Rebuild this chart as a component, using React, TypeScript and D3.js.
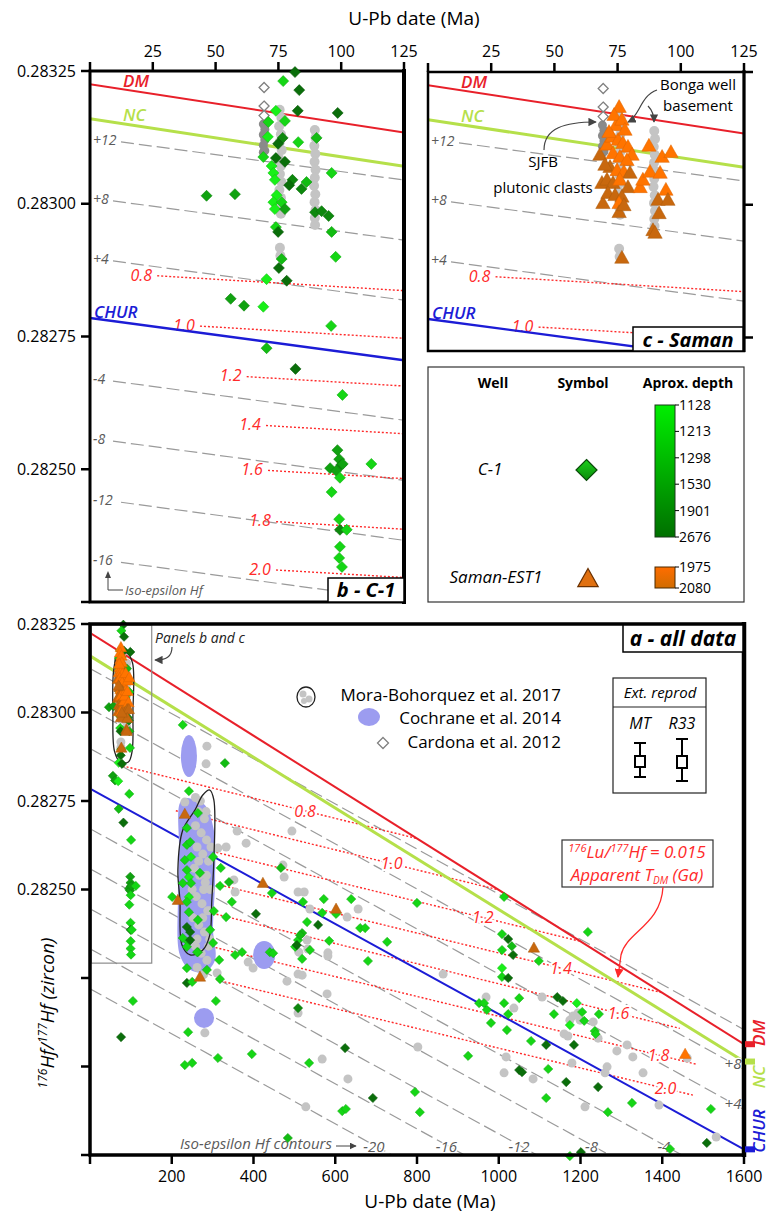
import React from "react";
import * as d3 from "d3";

const FONT = "'Open Sans', 'Noto Sans', 'DejaVu Sans', sans-serif";

// Reference evolution lines: [age (Ma), 176Hf/177Hf]
const DM_LINE = [[0, 0.283225], [1600, 0.282063]];
const NC_LINE = [[0, 0.28316], [1600, 0.282014]];
const CHUR_LINE = [[0, 0.282785], [1600, 0.281766]];

const EPS_A = [12, 8, 4, -4, -8, -12, -16, -20];
const EPS_BC = [12, 8, 4, -4, -8, -12, -16];
const EPS_LABELS_BOTTOM = [-20, -16, -12, -8, -4];
const EPS_LABELS_RIGHT = [4, 8];

const TDM_GA = [0.8, 1.0, 1.2, 1.4, 1.6, 1.8, 2.0];
const TDM_HF0 = [0.282872, 0.282782, 0.282692, 0.282602, 0.282518, 0.282422, 0.282331];
const TDM_A_START = [80, 210, 290, 300, 300, 269, 310];
const TDM_A_END = [800, 1000, 1200, 1400, 1443, 1485, 1475];
const TDM_A_LABEL_T = [526, 738, 961, 1152, 1293, 1391, 1408];
const TDM_BC_LABEL_T = [20.4, 37.4, 56, 63.7, 64.5, 67.7, 67.7];

const TOP_TICKS = [0, 25, 50, 75, 100, 125];
const Y_TICKS_B = [0.28325, 0.283, 0.28275, 0.2825, 0.28225];
const Y_TICKS_C_RIGHT = [0.28325, 0.283, 0.28275];
const X_TICKS_A = [0, 200, 400, 600, 800, 1000, 1200, 1400, 1600];
const Y_TICKS_A = [0.28325, 0.283, 0.28275, 0.2825, 0.28225, 0.282, 0.28175];
const DEPTHS_C1 = ["1128", "1213", "1298", "1530", "1901", "2676"];
const DEPTHS_SAMAN = ["1975", "2080"];

// C-1 well zircons: [age Ma, 176Hf/177Hf, depth level 0 (shallow, bright) .. 5 (deep, dark)]
const C1 = [
  [81.6, 0.283248, 5], [76.9, 0.283231, 1], [83.3, 0.283214, 5], [82.7, 0.283175, 5], [74.0, 0.283175, 0],
  [98.6, 0.283171, 5], [77.6, 0.283156, 1], [71.0, 0.283154, 1], [90.2, 0.283124, 2], [82.9, 0.283116, 1],
  [76.7, 0.283124, 4], [74.9, 0.283113, 5], [70.8, 0.283126, 0], [69.0, 0.283088, 1], [74.0, 0.283086, 5],
  [77.6, 0.283079, 5], [72.3, 0.283071, 0], [96.2, 0.283058, 1], [73.0, 0.283058, 0], [73.6, 0.283045, 0],
  [80.6, 0.283045, 4], [79.3, 0.283035, 5], [86.2, 0.283041, 2], [84.2, 0.283028, 4], [46.4, 0.283015, 3],
  [57.7, 0.283018, 3], [74.3, 0.283016, 0], [73.0, 0.283003, 0], [76.3, 0.283003, 1], [73.6, 0.28299, 0],
  [77.6, 0.28299, 3], [89.6, 0.282984, 4], [92.2, 0.282986, 4], [95.0, 0.282977, 4], [96.2, 0.282947, 2],
  [74.0, 0.282956, 1], [74.9, 0.282947, 5], [97.8, 0.2829, 1], [76.3, 0.282896, 2], [75.2, 0.282879, 5],
  [70.3, 0.282858, 0], [78.3, 0.282855, 5], [56.0, 0.282821, 3], [61.3, 0.282808, 3], [69.0, 0.282806, 0],
  [96.0, 0.28277, 1], [70.3, 0.282728, 2], [81.8, 0.282689, 5], [100.5, 0.28264, 1], [98.5, 0.282536, 3],
  [99.2, 0.282519, 3], [100.0, 0.282508, 4], [95.6, 0.282502, 3], [98.0, 0.282497, 3], [100.6, 0.28251, 3],
  [112.0, 0.28251, 1], [99.5, 0.282484, 1], [96.2, 0.282457, 1], [99.2, 0.282406, 1], [99.5, 0.282386, 4],
  [102.2, 0.282386, 1], [99.5, 0.282354, 1], [99.2, 0.282333, 1], [100.3, 0.282316, 1], [105, 0.282185, 1],
  [76, 0.282083, 5],
  [227, 0.282965, 1], [330, 0.282857, 2], [242, 0.282778, 1], [264, 0.282716, 1], [237, 0.282674, 1],
  [301, 0.282592, 1], [320, 0.282561, 1], [318, 0.28251, 1], [340, 0.282521, 2], [347, 0.282465, 1],
  [445, 0.28249, 1], [467, 0.282561, 2], [406, 0.282431, 5], [333, 0.282422, 1], [303, 0.282439, 1],
  [294, 0.282386, 1], [301, 0.282349, 1], [521, 0.282465, 1], [572, 0.282473, 1], [639, 0.282473, 1],
  [568, 0.282434, 1], [531, 0.282408, 1], [558, 0.2824, 5], [661, 0.282391, 1], [673, 0.282391, 1],
  [519, 0.282377, 2], [509, 0.282357, 1], [502, 0.282338, 1], [585, 0.282355, 1], [727, 0.282352, 1],
  [372, 0.282323, 1], [355, 0.282315, 1], [440, 0.282323, 1], [448, 0.28232, 1], [201, 0.282479, 1],
  [316, 0.282301, 1], [264, 0.282323, 1], [240, 0.282352, 1], [237, 0.282278, 1], [286, 0.282273, 1],
  [237, 0.282236, 5], [250, 0.282239, 1], [318, 0.282247, 1], [308, 0.282185, 1], [240, 0.282097, 1],
  [313, 0.282024, 1], [232, 0.282004, 1], [250, 0.28201, 1], [396, 0.282035, 1], [484, 0.281798, 2],
  [536, 0.28201, 1], [624, 0.282052, 5], [692, 0.281911, 5], [617, 0.281874, 1], [626, 0.28188, 1],
  [509, 0.282165, 4], [519, 0.282304, 1], [538, 0.282329, 1], [506, 0.282343, 5], [514, 0.282371, 2],
  [602, 0.282431, 1], [680, 0.282298, 1], [800, 0.282462, 1], [1013, 0.282479, 1], [1008, 0.282374, 1],
  [1023, 0.28236, 5], [1032, 0.28234, 2], [1008, 0.282329, 1], [1035, 0.282315, 5], [1098, 0.282298, 1],
  [1008, 0.282278, 0], [1008, 0.282253, 1], [1023, 0.28225, 5], [952, 0.282179, 1], [964, 0.282179, 1],
  [971, 0.28216, 1], [1013, 0.282179, 1], [1050, 0.282193, 1], [981, 0.282123, 1], [1023, 0.282148, 1],
  [1020, 0.282103, 1], [1079, 0.282072, 1], [1116, 0.282061, 5], [1143, 0.282196, 5], [1157, 0.282185, 5],
  [1135, 0.282148, 1], [1191, 0.282179, 0], [1174, 0.282117, 0], [1184, 0.282061, 5], [925, 0.28203, 1],
  [1050, 0.28199, 5], [1057, 0.281984, 5], [1121, 0.281993, 1], [1218, 0.28238, 1], [1204, 0.282154, 1],
  [1245, 0.282148, 1], [1209, 0.282129, 1], [1235, 0.2821, 1], [1237, 0.282092, 1], [1165, 0.281956, 5],
  [1243, 0.281942, 5], [1116, 0.281911, 1], [1326, 0.281897, 1], [1267, 0.281871, 1], [1519, 0.28188, 1],
  [1509, 0.281784, 5], [1419, 0.281767, 1], [1174, 0.281747, 1], [1201, 0.281758, 5], [795, 0.281928, 1],
  [807, 0.281871, 1],
  [237, 0.282626, 1], [245, 0.282634, 1], [232, 0.282583, 1], [247, 0.282592, 0], [237, 0.282555, 1],
  [269, 0.282547, 1], [242, 0.282535, 0], [227, 0.282518, 1], [247, 0.282518, 1], [242, 0.282479, 0],
  [237, 0.282465, 1], [264, 0.282414, 1], [242, 0.282436, 1], [237, 0.282394, 5], [245, 0.28238, 5],
  [227, 0.282363, 1], [237, 0.282338, 1], [262, 0.282323, 1], [245, 0.282357, 5],
];

// Saman-EST1 zircons: [age Ma, 176Hf/177Hf, depth level 0 (1975 m) .. 1 (2080 m)]
const SAMAN = [
  [75.6, 0.283184, 0], [74.4, 0.28315, 0], [68.0, 0.283094, 1], [68.8, 0.283041, 1], [69.2, 0.283003, 1],
  [70.8, 0.283113, 0], [72.8, 0.283128, 0], [75.2, 0.283122, 0], [77.1, 0.283116, 0], [79.1, 0.283109, 0],
  [80.7, 0.283094, 0], [73.2, 0.283097, 0], [75.9, 0.28309, 0], [78.7, 0.283084, 0], [72.0, 0.283071, 1],
  [74.8, 0.283065, 0], [77.5, 0.283062, 0], [79.9, 0.28306, 1], [70.8, 0.283047, 1], [73.2, 0.283041, 1],
  [75.9, 0.283047, 0], [79.1, 0.283033, 1], [71.2, 0.283022, 1], [74.0, 0.283018, 1], [76.7, 0.283015, 1],
  [75.6, 0.283003, 0], [75.6, 0.282986, 1], [76.7, 0.2829, 1], [83.9, 0.283033, 0], [85.0, 0.283047, 0],
  [87.8, 0.283062, 0], [87.4, 0.283111, 0], [91.8, 0.28306, 0], [92.6, 0.28309, 0], [96.1, 0.283099, 0],
  [94.1, 0.283028, 0], [91.0, 0.283009, 1], [94.9, 0.283009, 1], [91.4, 0.282984, 1], [89.0, 0.282952, 1],
  [89.8, 0.282947, 1], [73.6, 0.283169, 0], [76.7, 0.28316, 0], [77.9, 0.283141, 0], [71.6, 0.283137, 0],
  [70.0, 0.283075, 1], [77.5, 0.282999, 1],
  [232, 0.282713, 1], [215, 0.28247, 1], [269, 0.282253, 1], [423, 0.282518, 1], [602, 0.282445, 1],
  [1086, 0.282335, 1], [1456, 0.282035, 0],
];

// Mora-Bohorquez et al. 2017: [age Ma, 176Hf/177Hf]
const MORA = [
  [75.5, 0.283177], [76.2, 0.283162], [75.3, 0.283146], [76, 0.283131], [75.5, 0.283116], [76.3, 0.283101],
  [75.2, 0.283086], [76, 0.283071], [75.6, 0.283056], [76.2, 0.283041], [75.4, 0.283026], [76, 0.283011],
  [75.5, 0.282996], [76, 0.282981], [75.6, 0.282917], [75.8, 0.282902],
  [89.5, 0.283139], [89.8, 0.283124], [89.3, 0.283109], [89.7, 0.283094], [89.4, 0.283079], [89.8, 0.283064],
  [89.5, 0.283049], [89.2, 0.283034], [89.7, 0.283018], [89.4, 0.283003], [89.8, 0.282988], [89.5, 0.282973],
  [89.6, 0.28296],
  [258, 0.28276], [270, 0.28275], [265, 0.28272], [280, 0.2827], [258, 0.28268], [272, 0.28266],
  [285, 0.28264], [262, 0.28262], [276, 0.2826], [290, 0.28258], [255, 0.28256], [268, 0.28254],
  [282, 0.28252], [294, 0.2825], [260, 0.28248], [274, 0.28246], [288, 0.28244], [252, 0.28242],
  [266, 0.2824], [280, 0.28238], [293, 0.28236], [258, 0.28234], [272, 0.28232], [286, 0.2823],
  [262, 0.28228], [278, 0.28226], [290, 0.28234], [250, 0.2825], [296, 0.28262], [284, 0.28272],
  [266, 0.28258], [276, 0.28242], [262, 0.28236], [285, 0.28254], [295, 0.28244], [278, 0.28250],
  [286, 0.282905], [284, 0.282855], [232, 0.282747], [360, 0.282665], [382, 0.282631], [494, 0.282665],
  [313, 0.282617], [333, 0.28262], [472, 0.282569], [475, 0.282535], [352, 0.282527], [355, 0.282493],
  [509, 0.282493], [524, 0.282493], [538, 0.282445], [629, 0.282422], [656, 0.282445], [531, 0.282357],
  [511, 0.282323], [533, 0.282332], [582, 0.282321], [281, 0.282095], [311, 0.282264], [387, 0.282295],
  [399, 0.282278], [482, 0.282241], [509, 0.282261], [519, 0.282258], [509, 0.282151], [580, 0.282205],
  [582, 0.282312], [568, 0.282021], [631, 0.281965], [528, 0.281886], [802, 0.282055], [864, 0.282261],
  [969, 0.282196], [1037, 0.282165], [1018, 0.282027], [1013, 0.281982], [1084, 0.281965], [1106, 0.282196],
  [1182, 0.282143], [1194, 0.282151], [1174, 0.282131], [1199, 0.282131], [1160, 0.282092], [1169, 0.282086],
  [1179, 0.28201], [1211, 0.281886], [1231, 0.282126], [1243, 0.28208], [1289, 0.282044], [1314, 0.282061],
  [1328, 0.282027], [1265, 0.281999], [1260, 0.281982], [1353, 0.281982], [1392, 0.281891], [1532, 0.281801],
  [1461, 0.282024],
];

// SJFB plutonic clasts (dark grey)
const SJFB = [[69, 0.28315], [69.6, 0.28314], [69, 0.28313], [69.6, 0.28312], [69, 0.28311], [69.6, 0.2831], [69, 0.283097]];
// Cardona et al. 2012 (open diamonds)
const CARDONA = [[69.3, 0.283219], [69.3, 0.283184], [69.3, 0.283166]];
// Cochrane et al. 2014 fields: ellipses [age, hf, age radius, hf radius] and one polygon
const COCHRANE_ELL = [[242, 0.282877, 19.6, 0.0000593], [426, 0.282315, 27, 0.0000395], [279, 0.282137, 24.5, 0.0000283]];
const COCHRANE_POLY = [[220, 0.282744], [235, 0.282758], [257, 0.282753], [281, 0.282739], [303, 0.282668], [306, 0.282527],
  [301, 0.282386], [306, 0.282301], [281, 0.282267], [245, 0.282273], [220, 0.282315], [215, 0.28247], [218, 0.282612]];
// Mora-Bohorquez et al. 2017 outlines
const MORA_OUTLINES = [
  [[58, 0.28312], [68, 0.283163], [90, 0.283168], [104, 0.28314], [105, 0.283], [103, 0.28289], [94, 0.28286], [74, 0.28286], [60, 0.28289], [56, 0.283]],
  [[293, 0.282781], [303, 0.282753], [303, 0.282583], [298, 0.28247], [293, 0.282371], [276, 0.282329], [245, 0.282315],
    [225, 0.282343], [220, 0.28247], [215, 0.282555], [227, 0.282668], [257, 0.282725], [276, 0.282767]],
];
const ZOOM_BOX = [[3, 0.283247], [151, 0.282292]];

const interp = (line: number[][], t: number) =>
  line[0][1] + ((line[1][1] - line[0][1]) * (t - line[0][0])) / (line[1][0] - line[0][0]);
const epsHf = (e: number, t: number) => interp(CHUR_LINE, t) * (1 + e / 1e4);
const tdmHf = (i: number, t: number) => {
  const T = TDM_GA[i] * 1000;
  const end = interp(DM_LINE, T);
  return TDM_HF0[i] + ((end - TDM_HF0[i]) * t) / T;
};

const greenScale = d3.scaleLinear<string>().domain([0, 5]).range(["#18f018", "#0a6e0a"]);
const orangeScale = d3.scaleLinear<string>().domain([0, 1]).range(["#ff7400", "#c8680e"]);

const diamondPath = (cx: number, cy: number, r: number) => `M${cx},${cy - r}L${cx + r},${cy}L${cx},${cy + r}L${cx - r},${cy}Z`;
const triPath = (cx: number, cy: number, s: number) =>
  `M${cx},${cy - s * 0.62}L${cx + s * 0.6},${cy + s * 0.45}L${cx - s * 0.6},${cy + s * 0.45}Z`;

const xB = d3.scaleLinear().domain([0, 125]).range([90, 404]);
const yB = d3.scaleLinear().domain([0.28225, 0.28325]).range([602, 71]);
const xC = d3.scaleLinear().domain([0, 125]).range([428, 744]);
const yC = d3.scaleLinear().domain([0.28225, 0.28325]).range([603, 72]);
const xA = d3.scaleLinear().domain([0, 1600]).range([90, 744]);
const yA = d3.scaleLinear().domain([0.28175, 0.28325]).range([1155, 624]);

const lineGen = d3.line();
const seg = (xs: any, ys: any, f: (t: number) => number, t0: number, t1: number) =>
  lineGen([[xs(t0), ys(f(t0))], [xs(t1), ys(f(t1))]]) as string;

const GREY_TXT = "#5a5a5a";
const RED = "#e8202a";
const NCG = "#b5e04a";
const BLUE = "#1c1cd6";
const TDMRED = "#ff2a2a";

function SmallPanelLines({ xs, ys, clip, yBottom }: any) {
  const left = xs.range()[0];
  const tMax = 125;
  return (
    <g clipPath={`url(#${clip})`}>
      {EPS_BC.map((e) => {
        const lab = e > 0 ? `+${e}` : `${e}`;
        const w = lab.length * 8;
        const xStart = left + 3 + w + 4;
        const tS = xs.invert(xStart);
        const tL = xs.invert(left + 3 + w / 2);
        return (
          <g key={e}>
            <path d={seg(xs, ys, (t) => epsHf(e, t), tS, tMax)} stroke="#9a9a9a" strokeWidth={1.2} strokeDasharray="13,5" fill="none" />
            <text x={left + 3} y={ys(epsHf(e, tL))} dy="0.35em" fontSize={14} fontStyle="italic" fill={GREY_TXT}>{lab}</text>
          </g>
        );
      })}
      {TDM_GA.map((g, i) => {
        const tl = TDM_BC_LABEL_T[i];
        const xl = xs(tl);
        const tS = xs.invert(xl + 16);
        if (ys(tdmHf(i, tl)) > yBottom - 6) return null;
        return (
          <g key={g}>
            <path d={seg(xs, ys, (t) => tdmHf(i, t), tS, tMax)} stroke={TDMRED} strokeWidth={1.4} strokeDasharray="2,2" fill="none" />
            <text x={xl} y={ys(tdmHf(i, tl))} dy="0.36em" textAnchor="middle" fontSize={16} fontStyle="italic" fill={TDMRED}>{g.toFixed(1)}</text>
          </g>
        );
      })}
      <path d={seg(xs, ys, (t) => interp(NC_LINE, t), 0, tMax)} stroke={NCG} strokeWidth={3} fill="none" />
      <path d={seg(xs, ys, (t) => interp(DM_LINE, t), 0, tMax)} stroke={RED} strokeWidth={2} fill="none" />
      <path d={seg(xs, ys, (t) => interp(CHUR_LINE, t), 0, tMax)} stroke={BLUE} strokeWidth={2.4} fill="none" />
      <text x={left + 33} y={ys(interp(DM_LINE, xs.invert(left + 47))) - 4} fontSize={17} fontStyle="italic" fontWeight={600} fill={RED}>DM</text>
      <text x={left + 33} y={ys(interp(NC_LINE, xs.invert(left + 47))) - 5} fontSize={17} fontStyle="italic" fontWeight={600} fill={NCG}>NC</text>
      <text x={left + 4} y={ys(interp(CHUR_LINE, xs.invert(left + 28))) - 4} fontSize={17} fontStyle="italic" fontWeight={600} fill={BLUE}>CHUR</text>
    </g>
  );
}

function inRange(ys: any, hf: number, tMax: number, t: number) {
  const [a, b] = ys.domain();
  return t <= tMax && hf >= a - 0.000005 && hf <= b + 0.000012;
}

export default function App() {
  const fmt = d3.format(".5f");
  const cLo = yC.invert(351);
  const ycTest = d3.scaleLinear().domain([cLo, 0.28325]).range([351, 72]);

  const greyDots = (xs: any, ys: any, r: number, tMax: number) =>
    MORA.filter((d) => inRange(ys, d[1], tMax, d[0])).map((d, i) => (
      <circle key={"m" + i} cx={xs(d[0])} cy={ys(d[1])} r={r} fill="#c4c4c4" />
    ));
  const sjfbDots = (xs: any, ys: any, r: number, tMax: number) =>
    SJFB.filter((d) => inRange(ys, d[1], tMax, d[0])).map((d, i) => (
      <circle key={"s" + i} cx={xs(d[0])} cy={ys(d[1])} r={r} fill="#8a8a8a" />
    ));
  const cardona = (xs: any, ys: any, r: number, tMax: number) =>
    CARDONA.filter((d) => inRange(ys, d[1], tMax, d[0])).map((d, i) => (
      <path key={"c" + i} d={diamondPath(xs(d[0]), ys(d[1]), r)} fill="#fff" stroke="#808080" strokeWidth={1.3} />
    ));
  const c1Dots = (xs: any, ys: any, r: number, tMax: number) =>
    C1.filter((d) => inRange(ys, d[1], tMax, d[0])).map((d, i) => (
      <path key={"g" + i} d={diamondPath(xs(d[0]), ys(d[1]), r)} fill={greenScale(d[2])} stroke={d3.color(greenScale(d[2]))!.darker(0.6).toString()} strokeWidth={0.6} />
    ));
  const samanTris = (xs: any, ys: any, s: number, tMax: number) =>
    SAMAN.filter((d) => inRange(ys, d[1], tMax, d[0])).map((d, i) => (
      <path key={"o" + i} d={triPath(xs(d[0]), ys(d[1]), s)} fill={orangeScale(d[2])} stroke={d3.color(orangeScale(d[2]))!.darker(0.4).toString()} strokeWidth={0.5} />
    ));

  const outlineGen = d3.line().curve(d3.curveCatmullRomClosed.alpha(0.5));

  return (
    <svg width={771} height={1213} style={{ position: "absolute", left: 0, top: 0, display: "block", background: "#fff" }} fontFamily={FONT}>
      <defs>
        <clipPath id="clipB"><rect x={90} y={71} width={314} height={531} /></clipPath>
        <clipPath id="clipC"><rect x={428} y={72} width={316} height={279} /></clipPath>
        <clipPath id="clipA"><rect x={90} y={624} width={654} height={531} /></clipPath>
        <marker id="ahGrey" viewBox="0 0 10 10" refX={9} refY={5} markerWidth={7} markerHeight={7} orient="auto">
          <path d="M0,0L10,5L0,10Z" fill="#444" />
        </marker>
        <marker id="ahRed" viewBox="0 0 10 10" refX={9} refY={5} markerWidth={7} markerHeight={7} orient="auto">
          <path d="M0,0L10,5L0,10Z" fill={TDMRED} />
        </marker>
        <linearGradient id="gGreen" x1="0" y1="0" x2="0" y2="1">
          <stop offset="0" stopColor="#00ee00" />
          <stop offset="1" stopColor="#007000" />
        </linearGradient>
        <linearGradient id="gOrange" x1="0" y1="0" x2="0" y2="1">
          <stop offset="0" stopColor="#ff6d00" />
          <stop offset="1" stopColor="#d06c00" />
        </linearGradient>
        <linearGradient id="gDiamond" x1="0" y1="0" x2="0" y2="1">
          <stop offset="0" stopColor="#1ccf1c" />
          <stop offset="1" stopColor="#0a8a0a" />
        </linearGradient>
      </defs>

      {/* top title */}
      <text x={414} y={25} textAnchor="middle" fontSize={19}>U-Pb date (Ma)</text>

      {/* ===== Panel b ===== */}
      <SmallPanelLines xs={xB} ys={yB} clip="clipB" yBottom={602} />
      <g>
        <path d="M108,575 L108,590 L123,590" fill="none" stroke="#444" strokeWidth={1} />
        <path d="M108,571 L105,578 L111,578 Z" fill="#444" />
        <text x={125} y={595} fontSize={13} fontStyle="italic" fill={GREY_TXT}>Iso-epsilon Hf</text>
      </g>
      <rect x={90} y={71} width={314} height={531} fill="none" stroke="#000" strokeWidth={3} />
      <line x1={404} y1={69} x2={404} y2={604} stroke="#000" strokeWidth={4} />
      {TOP_TICKS.map((t) => (
        <g key={"tb" + t}>
          <line x1={xB(t)} x2={xB(t)} y1={71} y2={62} stroke="#000" strokeWidth={2.5} />
          {t > 0 && <text x={xB(t)} y={57} textAnchor="middle" fontSize={16}>{t}</text>}
        </g>
      ))}
      {Y_TICKS_B.map((v, i) => (
        <g key={"yb" + v}>
          <line x1={81} x2={90} y1={yB(v)} y2={yB(v)} stroke="#000" strokeWidth={2.5} />
          {i < 4 && <text x={76} y={yB(v)} dy="0.35em" textAnchor="end" fontSize={16}>{fmt(v)}</text>}
        </g>
      ))}
      <g>
        {greyDots(xB, yB, 5, 125)}
        {sjfbDots(xB, yB, 4.5, 125)}
        {cardona(xB, yB, 5, 125)}
        {c1Dots(xB, yB, 5.5, 125)}
      </g>
      <rect x={328} y={578} width={76} height={24} fill="#fff" stroke="#000" strokeWidth={1.5} />
      <text x={366} y={597} textAnchor="middle" fontSize={20} fontWeight={700} fontStyle="italic">b - C-1</text>

      {/* ===== Panel c ===== */}
      <SmallPanelLines xs={xC} ys={ycTest} clip="clipC" yBottom={351} />
      <rect x={428} y={72} width={316} height={279} fill="none" stroke="#000" strokeWidth={2.5} />
      <line x1={744} y1={70} x2={744} y2={352} stroke="#000" strokeWidth={3} />
      {TOP_TICKS.map((t) => (
        <g key={"tc" + t}>
          <line x1={xC(t)} x2={xC(t)} y1={72} y2={63} stroke="#000" strokeWidth={2.5} />
          {t > 0 && <text x={xC(t)} y={57} textAnchor="middle" fontSize={16}>{t}</text>}
        </g>
      ))}
      {Y_TICKS_C_RIGHT.map((v) => (
        <line key={"yc" + v} x1={744} x2={753} y1={ycTest(v)} y2={ycTest(v)} stroke="#000" strokeWidth={2.5} />
      ))}
      <g>
        {greyDots(xC, ycTest, 5, 125)}
        {sjfbDots(xC, ycTest, 4.5, 125)}
        {cardona(xC, ycTest, 5, 125)}
        {samanTris(xC, ycTest, 12, 125)}
      </g>
      {/* annotations */}
      <text x={698} y={90} textAnchor="middle" fontSize={15}>Bonga well</text>
      <text x={698} y={111} textAnchor="middle" fontSize={15}>basement</text>
      <path d="M657,90 C640,96 640,116 628,122" fill="none" stroke="#444" strokeWidth={1.2} markerEnd="url(#ahGrey)" />
      <path d="M648,106 C652,110 654,114 654,122" fill="none" stroke="#444" strokeWidth={1.2} markerEnd="url(#ahGrey)" />
      <text x={543} y={167} textAnchor="middle" fontSize={15}>SJFB</text>
      <text x={543} y={193} textAnchor="middle" fontSize={15}>plutonic clasts</text>
      <path d="M544,150 C544,128 565,122 596,122" fill="none" stroke="#444" strokeWidth={1.2} markerEnd="url(#ahGrey)" />
      <rect x={633} y={327} width={110} height={24} fill="#fff" stroke="#000" strokeWidth={1.5} />
      <text x={688} y={347} textAnchor="middle" fontSize={20} fontWeight={700} fontStyle="italic">c - Saman</text>

      {/* ===== Legend box ===== */}
      <rect x={428} y={367} width={316} height={235} fill="#fff" stroke="#333" strokeWidth={1.2} />
      <text x={493} y={388} textAnchor="middle" fontSize={14} fontWeight={700}>Well</text>
      <text x={583} y={388} textAnchor="middle" fontSize={14} fontWeight={700}>Symbol</text>
      <text x={688} y={388} textAnchor="middle" fontSize={14} fontWeight={700}>Aprox. depth</text>
      <text x={490} y={475} textAnchor="middle" fontSize={17} fontStyle="italic">C-1</text>
      <path d={diamondPath(586.5, 470, 10.5)} fill="url(#gDiamond)" stroke="#0a4a0a" strokeWidth={1.2} />
      <rect x={655} y={405} width={20} height={132} fill="url(#gGreen)" stroke="#1a3a1a" strokeWidth={1} />
      {DEPTHS_C1.map((d, i) => {
        const yy = d3.scaleLinear().domain([0, DEPTHS_C1.length - 1]).range([405, 537])(i);
        return (
          <g key={d}>
            <line x1={675} x2={679} y1={yy} y2={yy} stroke="#000" strokeWidth={1} />
            <text x={679} y={yy} dy="0.35em" fontSize={14}>{d}</text>
          </g>
        );
      })}
      <text x={496} y={583} textAnchor="middle" fontSize={17} fontStyle="italic">Saman-EST1</text>
      <path d={triPath(588, 579, 17)} fill="#e07010" stroke="#6a3000" strokeWidth={1.2} />
      <rect x={655} y={567} width={20} height={21} fill="url(#gOrange)" stroke="#4a2a00" strokeWidth={1} />
      {DEPTHS_SAMAN.map((d, i) => {
        const yy = i === 0 ? 567 : 588;
        return (
          <g key={d}>
            <line x1={675} x2={679} y1={yy} y2={yy} stroke="#000" strokeWidth={1} />
            <text x={679} y={yy} dy="0.35em" fontSize={14}>{d}</text>
          </g>
        );
      })}

      {/* ===== Panel a ===== */}
      <g clipPath="url(#clipA)">
        {EPS_A.map((e) => (
          <path key={"ea" + e} d={seg(xA, yA, (t) => epsHf(e, t), 0, 1600)} stroke="#9a9a9a" strokeWidth={1.2} strokeDasharray="13,5" fill="none" />
        ))}
        {TDM_GA.map((g, i) => (
          <path key={"ta" + g} d={seg(xA, yA, (t) => tdmHf(i, t), TDM_A_START[i], TDM_A_END[i])} stroke={TDMRED} strokeWidth={1.4} strokeDasharray="2,2" fill="none" />
        ))}
        <path d={seg(xA, yA, (t) => interp(NC_LINE, t), 0, 1600)} stroke={NCG} strokeWidth={3} fill="none" />
        <path d={seg(xA, yA, (t) => interp(DM_LINE, t), 0, 1600)} stroke={RED} strokeWidth={2} fill="none" />
        <path d={seg(xA, yA, (t) => interp(CHUR_LINE, t), 0, 1600)} stroke={BLUE} strokeWidth={2} fill="none" />
        {TDM_GA.map((g, i) => (
          <text key={"tl" + g} x={xA(TDM_A_LABEL_T[i])} y={yA(tdmHf(i, TDM_A_LABEL_T[i]))} dy="0.36em" textAnchor="middle" fontSize={16} fontStyle="italic" fill={TDMRED} stroke="#fff" strokeWidth={4} paintOrder="stroke">{g.toFixed(1)}</text>
        ))}
      </g>
      {/* epsilon labels */}
      {EPS_LABELS_BOTTOM.map((e) => {
        const t = (d3.scaleLinear().domain([epsHf(e, 0), epsHf(e, 1600)]).range([0, 1600]) as any)(0.28175);
        return (
          <text key={"eb" + e} x={xA(t) - 18} y={1152} textAnchor="middle" fontSize={15} fontStyle="italic" fill={GREY_TXT} stroke="#fff" strokeWidth={3} paintOrder="stroke">{e}</text>
        );
      })}
      {EPS_LABELS_RIGHT.map((e) => (
        <text key={"er" + e} x={733} y={yA(epsHf(e, 1600)) - 6} dy="0.35em" textAnchor="middle" fontSize={15} fontStyle="italic" fill={GREY_TXT} stroke="#fff" strokeWidth={3} paintOrder="stroke">+{e}</text>
      ))}
      <text x={180} y={1149} fontSize={15} fontStyle="italic" fill={GREY_TXT}>Iso-epsilon Hf contours</text>
      <line x1={336} x2={356} y1={1146} y2={1146} stroke="#444" strokeWidth={1} markerEnd="url(#ahGrey)" />

      {/* data fields */}
      <g>
        {COCHRANE_ELL.map((d, i) => (
          <ellipse key={"ce" + i} cx={xA(d[0])} cy={yA(d[1])} rx={xA(d[0] + d[2]) - xA(d[0])} ry={yA(d[1] - d[3]) - yA(d[1])} fill="#9c9cf0" />
        ))}
        <path d={outlineGen(COCHRANE_POLY.map((d) => [xA(d[0]), yA(d[1])] as [number, number])) as string} fill="#9c9cf0" />
        {greyDots(xA, yA, 4.5, 1600)}
        {sjfbDots(xA, yA, 4, 1600)}
        {MORA_OUTLINES.map((o, i) => (
          <path key={"mo" + i} d={outlineGen(o.map((d) => [xA(d[0]), yA(d[1])] as [number, number])) as string} fill="none" stroke="#222" strokeWidth={1.3} />
        ))}
        {c1Dots(xA, yA, 4.6, 1600)}
        {samanTris(xA, yA, 9.5, 1600)}
      </g>
      <rect x={xA(ZOOM_BOX[0][0])} y={yA(ZOOM_BOX[0][1])} width={xA(ZOOM_BOX[1][0]) - xA(ZOOM_BOX[0][0])} height={yA(ZOOM_BOX[1][1]) - yA(ZOOM_BOX[0][1])} fill="none" stroke="#8c8c8c" strokeWidth={1.2} />
      <text x={155} y={643} fontSize={14} fontStyle="italic" fill="#222">Panels b and c</text>
      <path d="M172,647 C172,657 166,660 155,660" fill="none" stroke="#444" strokeWidth={1.2} markerEnd="url(#ahGrey)" />

      {/* frame + axes */}
      <rect x={90} y={624} width={654} height={531} fill="none" stroke="#000" strokeWidth={3.5} />
      <line x1={744} y1={622} x2={744} y2={1157} stroke="#000" strokeWidth={4.5} />
      {X_TICKS_A.map((t) => (
        <g key={"xa" + t}>
          <line x1={xA(t)} x2={xA(t)} y1={1155} y2={1164} stroke="#000" strokeWidth={2.5} />
          {t > 0 && <text x={xA(t)} y={1182} textAnchor="middle" fontSize={16}>{t}</text>}
        </g>
      ))}
      {Y_TICKS_A.map((v, i) => (
        <g key={"ya" + v}>
          <line x1={81} x2={90} y1={yA(v)} y2={yA(v)} stroke="#000" strokeWidth={2.5} />
          {i < 4 && <text x={76} y={yA(v)} dy="0.35em" textAnchor="end" fontSize={16}>{fmt(v)}</text>}
        </g>
      ))}
      <text x={430} y={1208} textAnchor="middle" fontSize={19}>U-Pb date (Ma)</text>
      <text transform="translate(54,1013) rotate(-90)" textAnchor="middle" fontSize={19} fontStyle="italic">
        <tspan fontSize={12} dy={-7}>176</tspan><tspan dy={7}>Hf/</tspan><tspan fontSize={12} dy={-7}>177</tspan><tspan dy={7}>Hf (zircon)</tspan>
      </text>

      {/* right-end markers */}
      <rect x={745} y={yA(interp(DM_LINE, 1600)) - 3} width={10} height={6} fill={RED} />
      <rect x={745} y={yA(interp(NC_LINE, 1600)) - 3} width={10} height={6} fill={NCG} />
      <rect x={745} y={yA(interp(CHUR_LINE, 1600)) - 3} width={10} height={6} fill={BLUE} />
      <text transform="translate(765,1033) rotate(-90)" textAnchor="middle" fontSize={17} fontStyle="italic" fontWeight={600} fill={RED}>DM</text>
      <text transform="translate(765,1077) rotate(-90)" textAnchor="middle" fontSize={17} fontStyle="italic" fontWeight={600} fill={NCG}>NC</text>
      <text transform="translate(765,1131) rotate(-90)" textAnchor="middle" fontSize={17} fontStyle="italic" fontWeight={600} fill={BLUE}>CHUR</text>

      {/* panel a label */}
      <rect x={623} y={625} width={120} height={27} fill="#fff" stroke="#000" strokeWidth={1.5} />
      <text x={683} y={646} textAnchor="middle" fontSize={21} fontWeight={700} fontStyle="italic">a - all data</text>

      {/* reference legend */}
      <ellipse cx={306} cy={697} rx={9} ry={10} fill="#fff" stroke="#222" strokeWidth={1.3} />
      <circle cx={303} cy={694} r={3.5} fill="#c4c4c4" />
      <circle cx={309} cy={699} r={3.5} fill="#c4c4c4" />
      <circle cx={304} cy={701} r={3} fill="#c4c4c4" />
      <text x={561} y={701} textAnchor="end" fontSize={17}>Mora-Bohorquez et al. 2017</text>
      <ellipse cx={369} cy={717} rx={11} ry={9} fill="#9c9cf0" />
      <text x={561} y={724} textAnchor="end" fontSize={17}>Cochrane et al. 2014</text>
      <path d={diamondPath(383, 743, 5.5)} fill="#fff" stroke="#808080" strokeWidth={1.3} />
      <text x={561} y={748} textAnchor="end" fontSize={17}>Cardona et al. 2012</text>

      {/* Ext reprod box */}
      <rect x={613} y={678} width={93} height={115} fill="#fff" stroke="#222" strokeWidth={1.2} />
      <line x1={613} x2={706} y1={707} y2={707} stroke="#222" strokeWidth={1.2} />
      <text x={660} y={698} textAnchor="middle" fontSize={15} fontStyle="italic">Ext. reprod</text>
      <text x={640} y={729} textAnchor="middle" fontSize={16} fontStyle="italic">MT</text>
      <text x={682} y={729} textAnchor="middle" fontSize={16} fontStyle="italic">R33</text>
      <g stroke="#000" strokeWidth={2} fill="#fff">
        <line x1={640} x2={640} y1={743} y2={777} />
        <line x1={634} x2={646} y1={743} y2={743} />
        <line x1={634} x2={646} y1={777} y2={777} />
        <rect x={635} y={756} width={10} height={11} />
        <line x1={682} x2={682} y1={739} y2={781} />
        <line x1={676} x2={688} y1={739} y2={739} />
        <line x1={676} x2={688} y1={781} y2={781} />
        <rect x={677} y={756} width={10} height={12} />
      </g>

      {/* TDM annotation */}
      <rect x={562} y={840} width={151} height={47} fill="#fff" stroke="#333" strokeWidth={1.2} />
      <text x={637} y={858} textAnchor="middle" fontSize={17} fontStyle="italic" fill={TDMRED}>
        <tspan fontSize={11} dy={-6}>176</tspan><tspan dy={6}>Lu/</tspan><tspan fontSize={11} dy={-6}>177</tspan><tspan dy={6}>Hf = 0.015</tspan>
      </text>
      <text x={637} y={881} textAnchor="middle" fontSize={17} fontStyle="italic" fill={TDMRED}>
        Apparent T<tspan fontSize={10} dy={3}>DM</tspan><tspan dy={-3}> (Ga)</tspan>
      </text>
      <path d="M663,887 C661,925 626,932 621,955 L618,977" fill="none" stroke={TDMRED} strokeWidth={1.3} markerEnd="url(#ahRed)" />
    </svg>
  );
}
